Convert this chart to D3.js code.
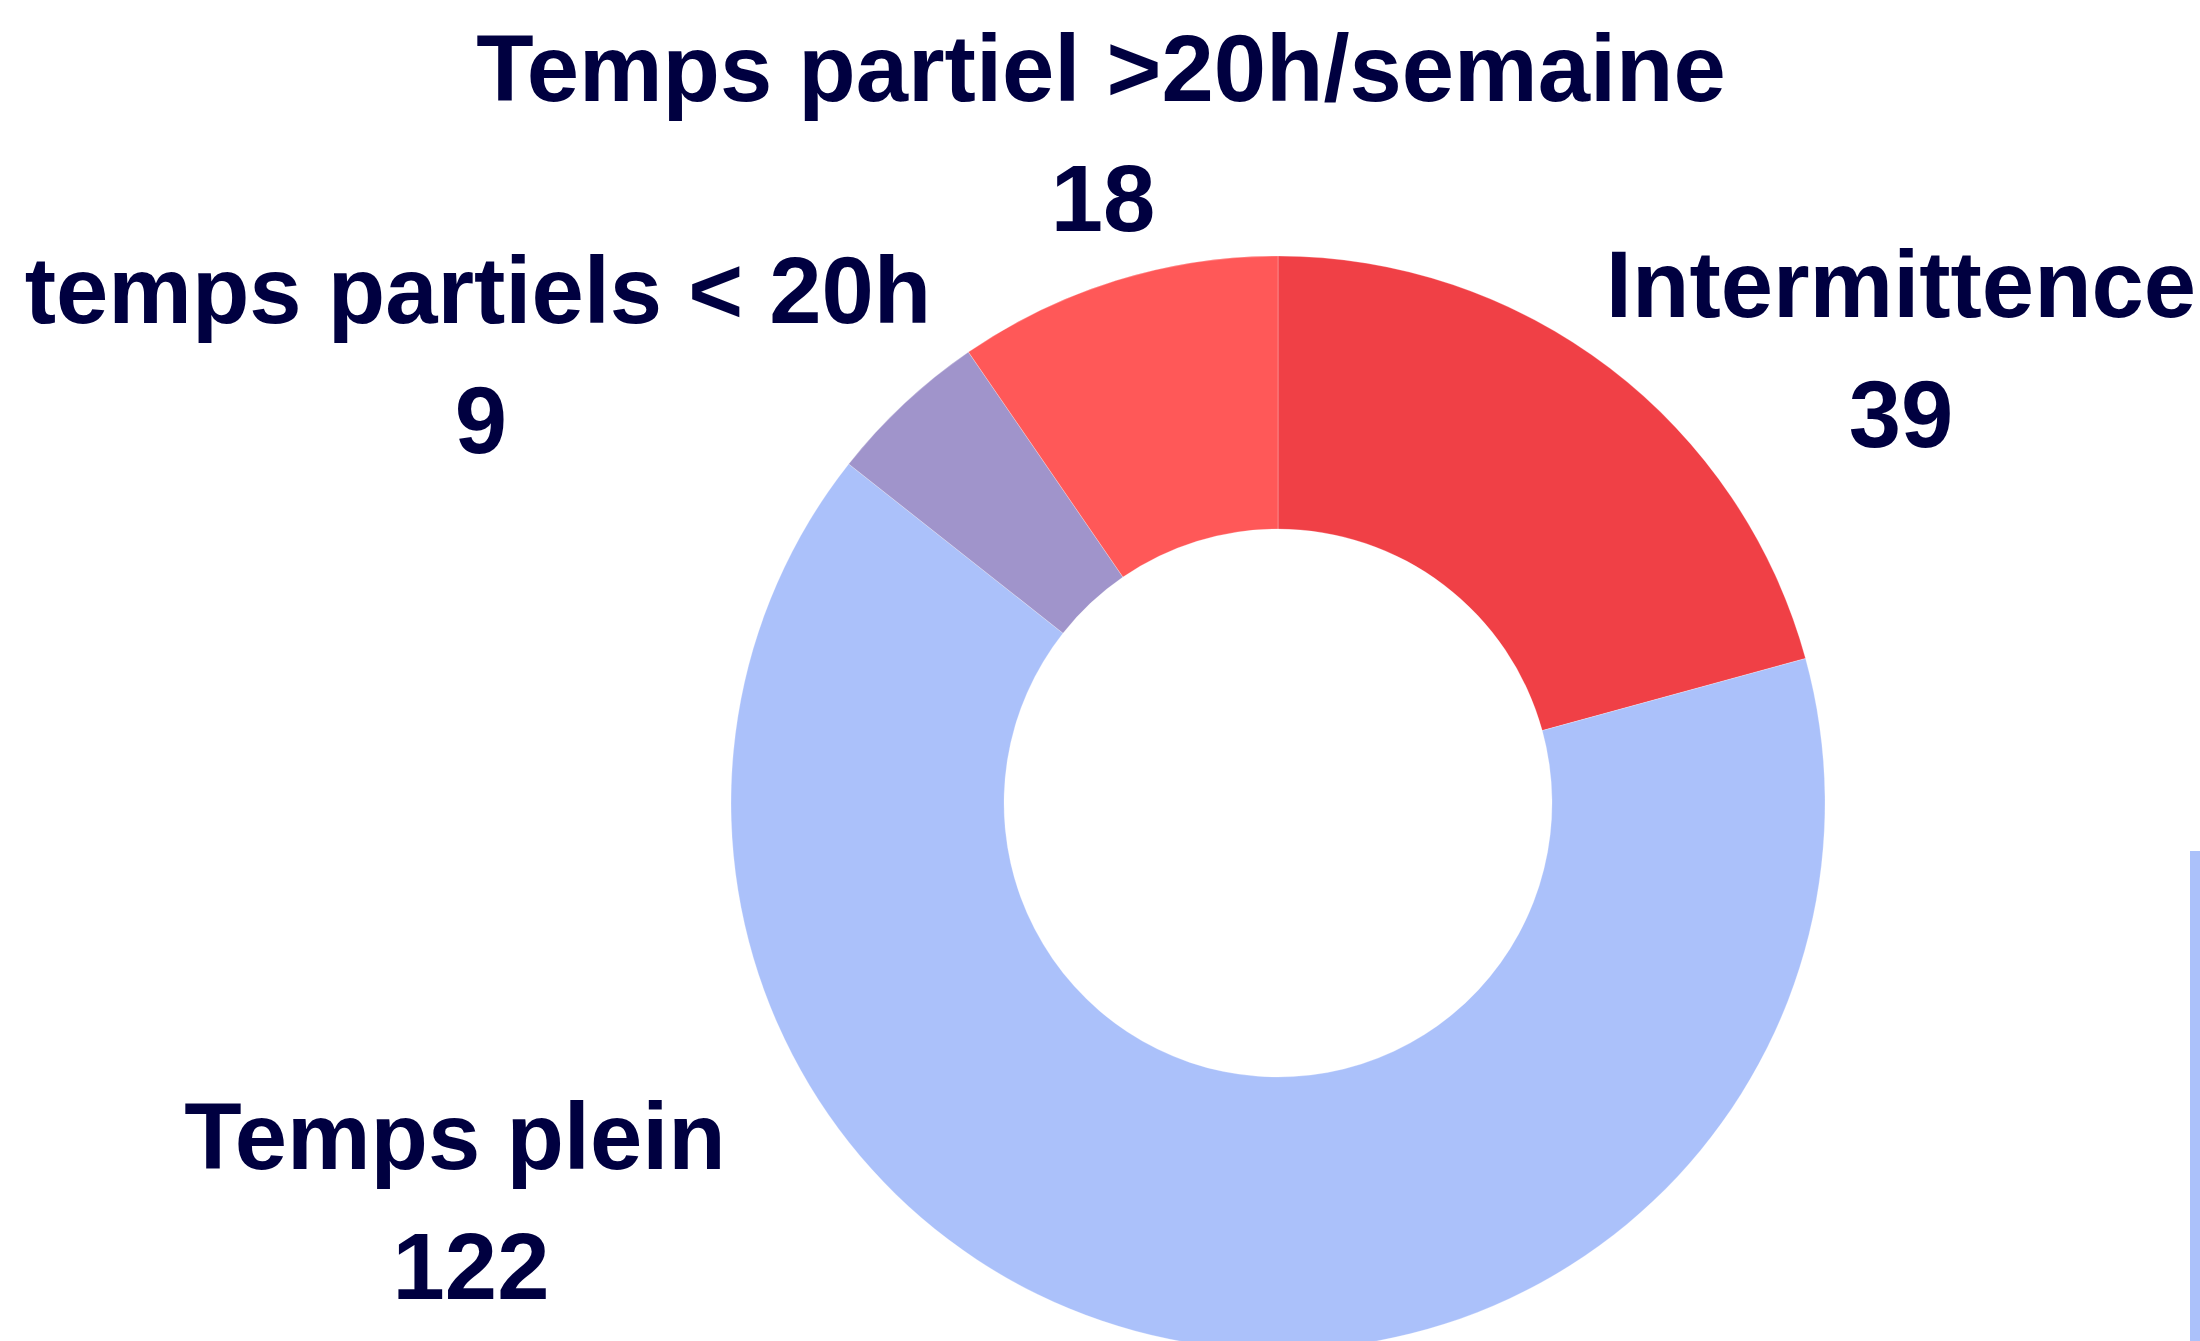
<!DOCTYPE html>
<html>
<head>
<meta charset="utf-8">
<script src="https://cdn.jsdelivr.net/npm/d3@7"></script>
<style>
  html, body { margin: 0; padding: 0; background: #ffffff; overflow: hidden; }
  #chart { width: 2200px; height: 1341px; }
</style>
</head>
<body>
<div id="chart"></div>
<script>

// data
var categories = ["Intermittence", "Temps plein", "temps partiels < 20h", "Temps partiel >20h/semaine"];
var values     = [39, 122, 9, 18];
var colours    = ["#F04046", "#ABC1FA", "#A094CB", "#FF5858"];

// where each label block sits (centre x of name, baseline of name, centre x of value)
var labelPos = [
  [1901, 317, 1901],
  [455, 1169, 471],
  [478, 323, 481],
  [1101, 101, 1103]
];

var width  = 2200;
var height = 1341;
var cx = 1278, cy = 803;
var outerR = 547, innerR = 274;
var lineGap = 130;

var svg = d3.select("#chart").append("svg")
    .attr("width", width)
    .attr("height", height);

var pie = d3.pie()
    .sort(null)
    .value(function(d) { return d; });

var arc = d3.arc()
    .innerRadius(innerR)
    .outerRadius(outerR);

var slices = svg.append("g")
    .attr("transform", "translate(" + cx + "," + cy + ")");

slices.selectAll("path")
    .data(pie(values))
    .enter().append("path")
    .attr("d", arc)
    .attr("fill", function(d, i) { return colours[i]; })
    .attr("stroke", "rgba(255,255,255,0.25)")
    .attr("stroke-width", 1);

// bit of the blue block sticking in at the right edge
svg.append("rect")
    .attr("x", 2190)
    .attr("y", 851)
    .attr("width", 10)
    .attr("height", height - 851)
    .attr("fill", colours[1]);

var labels = svg.append("g")
    .attr("font-family", "'Liberation Sans', Arial, sans-serif")
    .attr("font-weight", "bold")
    .attr("font-size", 94)
    .attr("fill", "#000040")
    .attr("text-anchor", "middle");

categories.forEach(function(name, i) {
  var p = labelPos[i];
  labels.append("text")
      .attr("x", p[0])
      .attr("y", p[1])
      .text(name);
  labels.append("text")
      .attr("x", p[2])
      .attr("y", p[1] + lineGap)
      .text(values[i]);
});

</script>
</body>
</html>
